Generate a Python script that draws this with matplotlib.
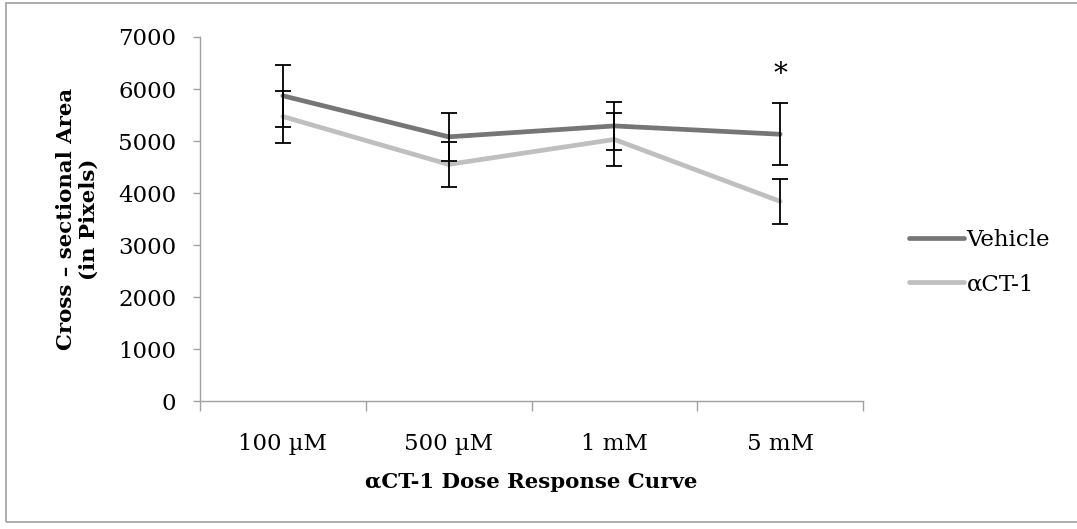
import matplotlib
matplotlib.use("Agg")
import matplotlib.pyplot as plt
from matplotlib.patches import Rectangle

plt.rcParams['font.family'] = ['DejaVu Serif']

doses = ["100 µM", "500 µM", "1 mM", "5 mM"]
vehicle = [5870, 5080, 5290, 5130]
vehicle_err = [600, 460, 460, 595]
act1 = [5470, 4550, 5030, 3840]
act1_err = [500, 430, 510, 430]
star_y = 6270

FS = 16.5
FS_BOLD = 15.3

fig = plt.figure(figsize=(10.77, 5.29), dpi=100)
ax = fig.add_axes([200 / 1077, 1 - 401 / 529, 663 / 1077, 364 / 529])

x = list(range(len(doses)))
ax.plot(x, vehicle, color="#767676", lw=3.4, label="Vehicle", solid_capstyle="round", zorder=2)
ax.plot(x, act1, color="#bfbfbf", lw=3.4, label="αCT-1", solid_capstyle="round", zorder=2)
ax.errorbar(x, vehicle, yerr=vehicle_err, fmt="none", ecolor="black", elinewidth=1.3, capsize=6, capthick=1.3, zorder=3)
ax.errorbar(x, act1, yerr=act1_err, fmt="none", ecolor="black", elinewidth=1.3, capsize=6, capthick=1.3, zorder=3)
ax.text(3, star_y, "*", ha="center", va="center", fontsize=20)

ax.set_xlim(-0.5, 3.5)
ax.set_ylim(0, 7000)
ax.set_yticks(range(0, 7001, 1000))
ax.set_xticks(x)
ax.set_xticklabels(doses)
ax.set_xticks([-0.5, 0.5, 1.5, 2.5, 3.5], minor=True)
ax.tick_params(axis="x", which="major", length=0, pad=23, labelsize=FS)
ax.tick_params(axis="x", which="minor", length=7, color="#a0a0a0", width=1)
ax.tick_params(axis="y", length=5, color="#a0a0a0", width=1, pad=12, labelsize=FS)

for side in ["top", "right"]:
    ax.spines[side].set_visible(False)
for side in ["left", "bottom"]:
    ax.spines[side].set_color("#a0a0a0")
    ax.spines[side].set_linewidth(1)

ax.set_xlabel("αCT-1 Dose Response Curve", fontsize=FS_BOLD, fontweight="bold", labelpad=12)
ax.set_ylabel("Cross – sectional Area\n(in Pixels)", fontsize=FS_BOLD, fontweight="bold", labelpad=14)

fig.legend(loc="center left", bbox_to_anchor=(909 / 1077, 1 - 262 / 529), frameon=False,
           fontsize=FS, handlelength=2.4, handletextpad=0.12, labelspacing=1.0,
           borderpad=0, borderaxespad=0)

# outer chart frame
fig.patches.append(Rectangle((6 / 1077, 1 - 522 / 529), 1.1, 519 / 529, transform=fig.transFigure,
                             fill=False, edgecolor="#a0a0a0", lw=1.2))

fig.savefig("out.png", dpi=100)
